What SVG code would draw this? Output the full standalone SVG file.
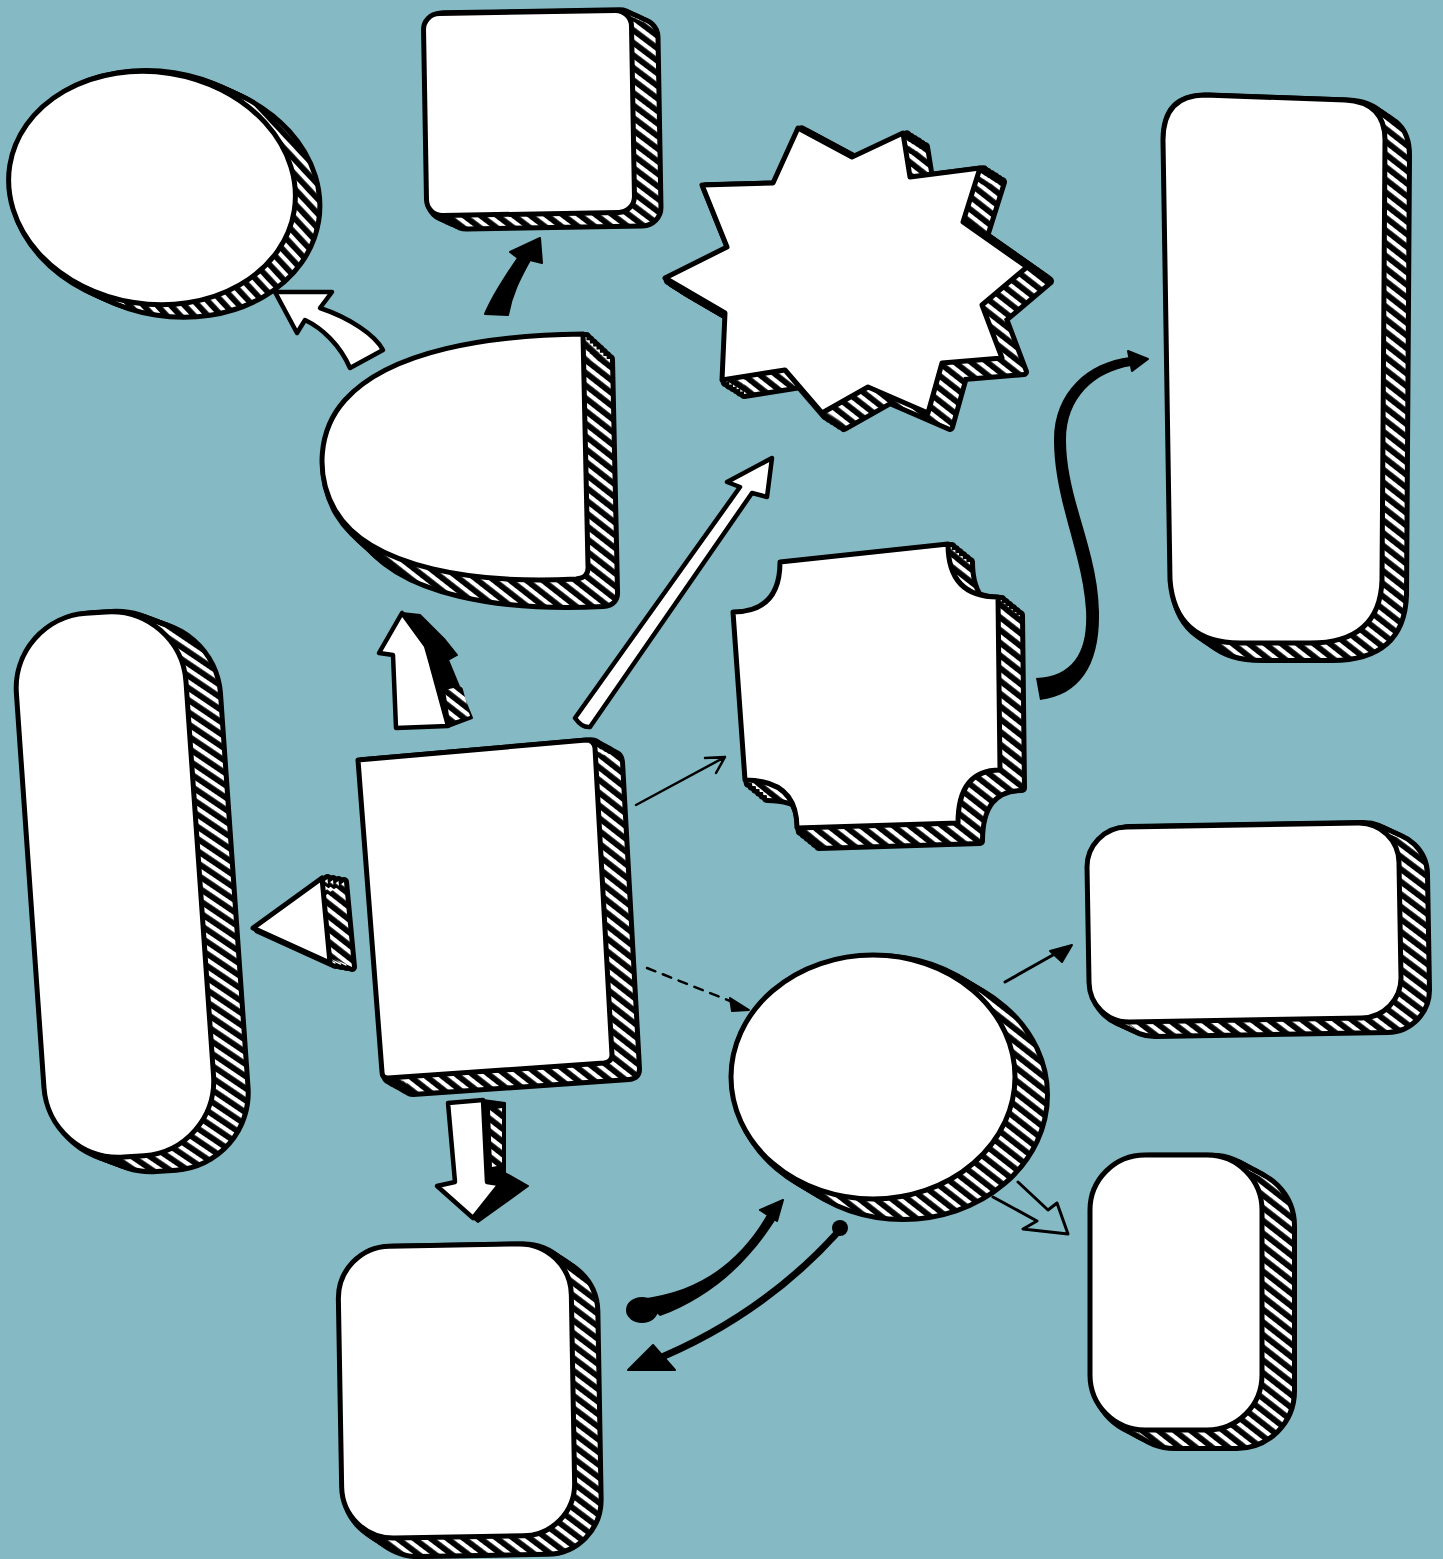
<svg xmlns="http://www.w3.org/2000/svg" width="1443" height="1559" viewBox="0 0 1443 1559">
<style>
.f{fill:#fff;stroke:#000;stroke-width:5;stroke-linejoin:round}
.u{fill:#000;stroke:#000;stroke-width:10;stroke-linejoin:round}
.h{fill:url(#hatch);stroke:none}
.k{fill:#000;stroke:#000;stroke-width:2;stroke-linejoin:round}
.w{fill:#fff;stroke:#000;stroke-width:4.5;stroke-linejoin:round}
.ln{fill:none;stroke:#000;stroke-linecap:round;stroke-linejoin:round}
</style>
<defs>
<pattern id="hatch" patternUnits="userSpaceOnUse" width="10" height="10" patternTransform="rotate(38)">
<rect width="10" height="10" fill="#000"/>
<rect y="3" width="10" height="4.2" fill="#fff"/>
</pattern>
<ellipse id="sh-ell" cx="152" cy="188" rx="144" ry="116" transform="rotate(9 152 188)"/>
<rect id="sh-sq" x="425" y="12" width="208" height="202" rx="16" transform="rotate(-1 529 113)"/>
<polygon id="sh-star" points="798,128 852,157 903,133 910,177 980,168 963,222 1027,267 982,305 1002,358 942,363 928,413 868,387 822,413 785,370 722,380 725,313 665,278 727,247 702,185 773,183"/>
<path id="sh-tr" d="M1205,95 L1345,100 Q1385,102 1385,140 L1382,580 Q1380,643 1310,643 L1240,643 Q1175,643 1170,580 L1163,140 Q1163,95 1205,95 Z"/>
<path id="sh-d" d="M583,334 L588,566 Q589,578 576,579 C480,584 370,570 335,510 C315,475 318,430 345,400 C390,350 490,335 583,334 Z"/>
<path id="sh-n" d="M780,562 L948,544 Q948,597 998,597 L1000,770 Q958,770 958,823 L797,828 Q797,780 745,780 L733,612 Q780,612 780,562 Z"/>
<rect id="sh-wr" x="1088" y="825" width="312" height="195" rx="40" transform="rotate(-1 1244 922)"/>
<ellipse id="sh-c" cx="873" cy="1077" rx="142" ry="122"/>
<rect id="sh-br" x="1090" y="1155" width="172" height="275" rx="55"/>
<rect id="sh-bl" x="340" y="1245" width="233" height="292" rx="52" transform="rotate(-1 456 1391)"/>
<rect id="sh-tl" x="30" y="612" width="170" height="545" rx="75" transform="rotate(-4 115 885)"/>
<path id="sh-cr" d="M358,760 L586,740 Q594,740 595,748 L612,1055 Q612,1062 604,1063 L388,1078 Q382,1078 382,1072 Z"/>
<polygon id="sh-tri" points="253,928 322,878 330,963"/>
</defs>
<rect width="1443" height="1559" fill="#85bac4"/>

<g id="node-ellipse-topleft">
<g class="u"><use href="#sh-ell" transform="translate(3.7,1.7)"/><use href="#sh-ell" transform="translate(7.3,3.3)"/><use href="#sh-ell" transform="translate(11,5)"/><use href="#sh-ell" transform="translate(14.7,6.7)"/><use href="#sh-ell" transform="translate(18.3,8.3)"/><use href="#sh-ell" transform="translate(22,10)"/></g>
<g class="h"><use href="#sh-ell" transform="translate(3.7,1.7)"/><use href="#sh-ell" transform="translate(7.3,3.3)"/><use href="#sh-ell" transform="translate(11,5)"/><use href="#sh-ell" transform="translate(14.7,6.7)"/><use href="#sh-ell" transform="translate(18.3,8.3)"/><use href="#sh-ell" transform="translate(22,10)"/></g>
<use href="#sh-ell" class="f"/>
</g>

<g id="node-square-top">
<g class="u"><use href="#sh-sq" transform="translate(4,1.8)"/><use href="#sh-sq" transform="translate(8,3.7)"/><use href="#sh-sq" transform="translate(12,5.5)"/><use href="#sh-sq" transform="translate(16,7.3)"/><use href="#sh-sq" transform="translate(20,9.2)"/><use href="#sh-sq" transform="translate(24,11)"/></g>
<g class="h"><use href="#sh-sq" transform="translate(4,1.8)"/><use href="#sh-sq" transform="translate(8,3.7)"/><use href="#sh-sq" transform="translate(12,5.5)"/><use href="#sh-sq" transform="translate(16,7.3)"/><use href="#sh-sq" transform="translate(20,9.2)"/><use href="#sh-sq" transform="translate(24,11)"/></g>
<use href="#sh-sq" class="f"/>
</g>

<g id="node-star">
<g class="u"><use href="#sh-star" transform="translate(3.7,2.3)"/><use href="#sh-star" transform="translate(7.3,4.7)"/><use href="#sh-star" transform="translate(11,7)"/><use href="#sh-star" transform="translate(14.7,9.3)"/><use href="#sh-star" transform="translate(18.3,11.7)"/><use href="#sh-star" transform="translate(22,14)"/></g>
<g class="h"><use href="#sh-star" transform="translate(3.7,2.3)"/><use href="#sh-star" transform="translate(7.3,4.7)"/><use href="#sh-star" transform="translate(11,7)"/><use href="#sh-star" transform="translate(14.7,9.3)"/><use href="#sh-star" transform="translate(18.3,11.7)"/><use href="#sh-star" transform="translate(22,14)"/></g>
<use href="#sh-star" class="f"/>
</g>

<g id="node-tall-right">
<g class="u"><use href="#sh-tr" transform="translate(3.7,2.5)"/><use href="#sh-tr" transform="translate(7.3,5)"/><use href="#sh-tr" transform="translate(11,7.5)"/><use href="#sh-tr" transform="translate(14.7,10)"/><use href="#sh-tr" transform="translate(18.3,12.5)"/><use href="#sh-tr" transform="translate(22,15)"/></g>
<g class="h"><use href="#sh-tr" transform="translate(3.7,2.5)"/><use href="#sh-tr" transform="translate(7.3,5)"/><use href="#sh-tr" transform="translate(11,7.5)"/><use href="#sh-tr" transform="translate(14.7,10)"/><use href="#sh-tr" transform="translate(18.3,12.5)"/><use href="#sh-tr" transform="translate(22,15)"/></g>
<use href="#sh-tr" class="f"/>
</g>

<g id="node-d-shape">
<g class="u"><use href="#sh-d" transform="translate(3.4,3.1)"/><use href="#sh-d" transform="translate(6.8,6.3)"/><use href="#sh-d" transform="translate(10.1,9.4)"/><use href="#sh-d" transform="translate(13.5,12.5)"/><use href="#sh-d" transform="translate(16.9,15.6)"/><use href="#sh-d" transform="translate(20.3,18.8)"/><use href="#sh-d" transform="translate(23.6,21.9)"/><use href="#sh-d" transform="translate(27,25)"/></g>
<g class="h"><use href="#sh-d" transform="translate(3.4,3.1)"/><use href="#sh-d" transform="translate(6.8,6.3)"/><use href="#sh-d" transform="translate(10.1,9.4)"/><use href="#sh-d" transform="translate(13.5,12.5)"/><use href="#sh-d" transform="translate(16.9,15.6)"/><use href="#sh-d" transform="translate(20.3,18.8)"/><use href="#sh-d" transform="translate(23.6,21.9)"/><use href="#sh-d" transform="translate(27,25)"/></g>
<use href="#sh-d" class="f"/>
</g>

<g id="node-notched">
<g class="u"><use href="#sh-n" transform="translate(3.7,3)"/><use href="#sh-n" transform="translate(7.3,6)"/><use href="#sh-n" transform="translate(11,9)"/><use href="#sh-n" transform="translate(14.7,12)"/><use href="#sh-n" transform="translate(18.3,15)"/><use href="#sh-n" transform="translate(22,18)"/></g>
<g class="h"><use href="#sh-n" transform="translate(3.7,3)"/><use href="#sh-n" transform="translate(7.3,6)"/><use href="#sh-n" transform="translate(11,9)"/><use href="#sh-n" transform="translate(14.7,12)"/><use href="#sh-n" transform="translate(18.3,15)"/><use href="#sh-n" transform="translate(22,18)"/></g>
<use href="#sh-n" class="f"/>
</g>

<g id="node-wide-right">
<g class="u"><use href="#sh-wr" transform="translate(4.3,2)"/><use href="#sh-wr" transform="translate(8.7,4)"/><use href="#sh-wr" transform="translate(13,6)"/><use href="#sh-wr" transform="translate(17.3,8)"/><use href="#sh-wr" transform="translate(21.7,10)"/><use href="#sh-wr" transform="translate(26,12)"/></g>
<g class="h"><use href="#sh-wr" transform="translate(4.3,2)"/><use href="#sh-wr" transform="translate(8.7,4)"/><use href="#sh-wr" transform="translate(13,6)"/><use href="#sh-wr" transform="translate(17.3,8)"/><use href="#sh-wr" transform="translate(21.7,10)"/><use href="#sh-wr" transform="translate(26,12)"/></g>
<use href="#sh-wr" class="f"/>
</g>

<g id="node-circle">
<g class="u"><use href="#sh-c" transform="translate(5,3)"/><use href="#sh-c" transform="translate(10,6)"/><use href="#sh-c" transform="translate(15,9)"/><use href="#sh-c" transform="translate(20,12)"/><use href="#sh-c" transform="translate(25,15)"/><use href="#sh-c" transform="translate(30,18)"/></g>
<g class="h"><use href="#sh-c" transform="translate(5,3)"/><use href="#sh-c" transform="translate(10,6)"/><use href="#sh-c" transform="translate(15,9)"/><use href="#sh-c" transform="translate(20,12)"/><use href="#sh-c" transform="translate(25,15)"/><use href="#sh-c" transform="translate(30,18)"/></g>
<use href="#sh-c" class="f"/>
</g>

<g id="node-box-bottom-right">
<g class="u"><use href="#sh-br" transform="translate(5,2.7)"/><use href="#sh-br" transform="translate(10,5.3)"/><use href="#sh-br" transform="translate(15,8)"/><use href="#sh-br" transform="translate(20,10.7)"/><use href="#sh-br" transform="translate(25,13.3)"/><use href="#sh-br" transform="translate(30,16)"/></g>
<g class="h"><use href="#sh-br" transform="translate(5,2.7)"/><use href="#sh-br" transform="translate(10,5.3)"/><use href="#sh-br" transform="translate(15,8)"/><use href="#sh-br" transform="translate(20,10.7)"/><use href="#sh-br" transform="translate(25,13.3)"/><use href="#sh-br" transform="translate(30,16)"/></g>
<use href="#sh-br" class="f"/>
</g>

<g id="node-box-bottom-left">
<g class="u"><use href="#sh-bl" transform="translate(4,2.7)"/><use href="#sh-bl" transform="translate(8,5.3)"/><use href="#sh-bl" transform="translate(12,8)"/><use href="#sh-bl" transform="translate(16,10.7)"/><use href="#sh-bl" transform="translate(20,13.3)"/><use href="#sh-bl" transform="translate(24,16)"/></g>
<g class="h"><use href="#sh-bl" transform="translate(4,2.7)"/><use href="#sh-bl" transform="translate(8,5.3)"/><use href="#sh-bl" transform="translate(12,8)"/><use href="#sh-bl" transform="translate(16,10.7)"/><use href="#sh-bl" transform="translate(20,13.3)"/><use href="#sh-bl" transform="translate(24,16)"/></g>
<use href="#sh-bl" class="f"/>
</g>

<g id="node-tall-left">
<g class="u"><use href="#sh-tl" transform="translate(5.3,2)"/><use href="#sh-tl" transform="translate(10.7,4)"/><use href="#sh-tl" transform="translate(16,6)"/><use href="#sh-tl" transform="translate(21.3,8)"/><use href="#sh-tl" transform="translate(26.7,10)"/><use href="#sh-tl" transform="translate(32,12)"/></g>
<g class="h"><use href="#sh-tl" transform="translate(5.3,2)"/><use href="#sh-tl" transform="translate(10.7,4)"/><use href="#sh-tl" transform="translate(16,6)"/><use href="#sh-tl" transform="translate(21.3,8)"/><use href="#sh-tl" transform="translate(26.7,10)"/><use href="#sh-tl" transform="translate(32,12)"/></g>
<use href="#sh-tl" class="f"/>
</g>

<g id="node-center-rect">
<g class="u"><use href="#sh-cr" transform="translate(4.2,2.3)"/><use href="#sh-cr" transform="translate(8.3,4.7)"/><use href="#sh-cr" transform="translate(12.5,7)"/><use href="#sh-cr" transform="translate(16.7,9.3)"/><use href="#sh-cr" transform="translate(20.8,11.7)"/><use href="#sh-cr" transform="translate(25,14)"/></g>
<g class="h"><use href="#sh-cr" transform="translate(4.2,2.3)"/><use href="#sh-cr" transform="translate(8.3,4.7)"/><use href="#sh-cr" transform="translate(12.5,7)"/><use href="#sh-cr" transform="translate(16.7,9.3)"/><use href="#sh-cr" transform="translate(20.8,11.7)"/><use href="#sh-cr" transform="translate(25,14)"/></g>
<use href="#sh-cr" class="f"/>
</g>

<g id="node-triangle">
<g class="u"><use href="#sh-tri" transform="translate(5.5,1)"/><use href="#sh-tri" transform="translate(11,2)"/><use href="#sh-tri" transform="translate(16.5,3)"/><use href="#sh-tri" transform="translate(22,4)"/></g>
<g class="h"><use href="#sh-tri" transform="translate(5.5,1)"/><use href="#sh-tri" transform="translate(11,2)"/><use href="#sh-tri" transform="translate(16.5,3)"/><use href="#sh-tri" transform="translate(22,4)"/></g>
<use href="#sh-tri" class="f"/>
</g>

<g id="connectors">
<polygon class="k" points="402,613 420,615 445,640 457,655 448,660 472,718 448,727 430,660"/>
<polygon fill="url(#hatch)" points="445,690 462,686 470,716 450,722"/>
<polygon class="w" points="402,613 379,653 393,655 396,728 448,726 430,660 426,646"/>
<polygon class="k" points="483,1100 505,1103 505,1173 528,1186 478,1222 473,1218 487,1180"/>
<polygon fill="url(#hatch)" points="490,1110 502,1108 502,1165 492,1167"/>
<polygon class="w" points="448,1103 483,1100 487,1182 500,1184 473,1218 437,1186 455,1182"/>
<path class="w" d="M275,292 L332,292 L320,308 C350,318 375,335 383,350 L350,368 C340,345 322,328 305,320 L297,333 Z"/>
<path class="k" d="M540,238 L542,263 L530,260 C522,275 512,292 508,315 L485,314 C493,295 505,277 518,258 L510,252 Z"/>
<path class="w" d="M575,718 L740,487 L727,482 L772,458 L767,497 L752,493 L590,727 Q582,728 575,718 Z"/>
<path class="ln" stroke-width="2.5" d="M636,805 L725,757 M705,758 L725,757 L716,773"/>
<path class="ln" stroke-width="2.5" stroke-dasharray="9,8" d="M647,968 L735,1003"/>
<polygon class="k" points="730,998 749,1010 732,1011"/>
<path class="ln" stroke-width="3" d="M1005,982 L1060,951"/>
<polygon class="k" points="1072,945 1050,951 1062,962"/>
<polyline class="ln" stroke-width="3" points="993,1197 1037,1221 1023,1229 1068,1234 1057,1203 1048,1210 1018,1182"/>
<path fill="#000" d="M1036,678 C1075,676 1088,650 1086,610 C1083,555 1054,500 1054,440 C1054,392 1088,362 1130,357 L1131,366 C1094,372 1066,398 1066,440 C1066,498 1098,550 1099,612 C1100,665 1080,695 1040,700 Z"/>
<polygon class="k" points="1148,359 1128,351 1132,371"/>
<path fill="#000" d="M640,1299 C700,1292 740,1262 768,1213 L776,1219 C745,1268 705,1300 660,1316 Z"/>
<ellipse cx="642" cy="1310" rx="16" ry="13" fill="#000"/>
<polygon class="k" points="783,1200 760,1210 777,1221"/>
<path class="ln" stroke-width="7" d="M838,1232 C790,1285 730,1330 650,1362"/>
<circle cx="840" cy="1228" r="8" fill="#000"/>
<polygon class="k" points="628,1370 653,1345 675,1370"/>
</g>
</svg>
